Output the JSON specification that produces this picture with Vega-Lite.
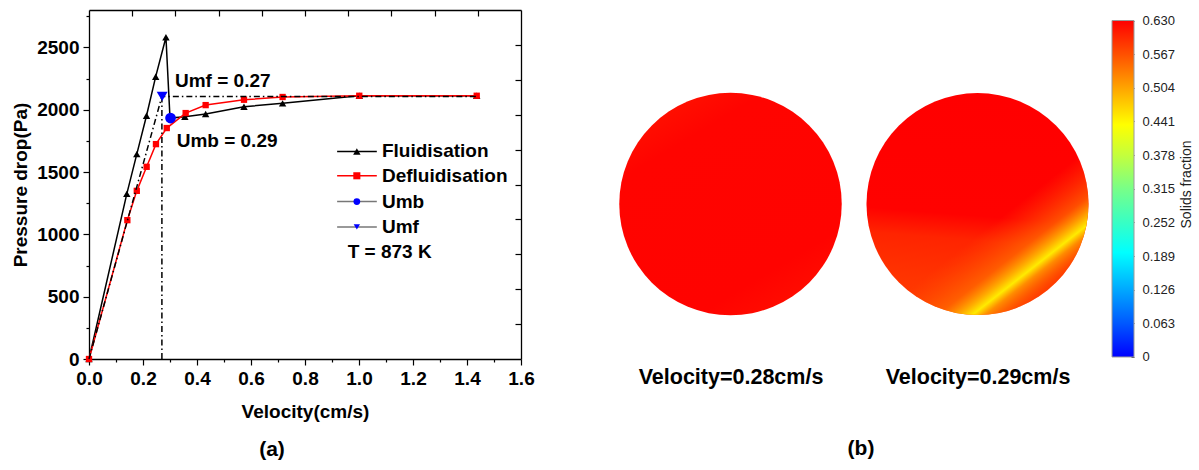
{
  "$schema": "https://vega.github.io/schema/vega-lite/v6.json",
  "padding": {"left": 11, "top": 9, "right": 0, "bottom": 0},
  "background": "white",
  "bounds": "flush",
  "spacing": 86,
  "config": {"view": {"stroke": null}, "font": "Liberation Sans"},
  "datasets": {
    "fluid": [
      {"v": 0, "p": 0}, {"v": 0.14, "p": 1325}, {"v": 0.177, "p": 1644}, {"v": 0.213, "p": 1952},
      {"v": 0.247, "p": 2265}, {"v": 0.285, "p": 2581}, {"v": 0.30, "p": 1933}, {"v": 0.355, "p": 1944},
      {"v": 0.432, "p": 1965}, {"v": 0.574, "p": 2024}, {"v": 0.717, "p": 2051}, {"v": 1.001, "p": 2112},
      {"v": 1.436, "p": 2112}
    ],
    "defluid": [
      {"v": 0, "p": 0}, {"v": 0.142, "p": 1114}, {"v": 0.177, "p": 1349}, {"v": 0.2135, "p": 1542},
      {"v": 0.248, "p": 1724}, {"v": 0.288, "p": 1853}, {"v": 0.358, "p": 1973}, {"v": 0.432, "p": 2037},
      {"v": 0.574, "p": 2080}, {"v": 0.717, "p": 2102}, {"v": 1.001, "p": 2112}, {"v": 1.436, "p": 2112}
    ],
    "dash": [
      {"seg": "a", "o": 1, "v": 0, "p": 0}, {"seg": "a", "o": 2, "v": 0.27, "p": 2107}, {"seg": "a", "o": 3, "v": 1.437, "p": 2107},
      {"seg": "b", "o": 1, "v": 0.27, "p": 0}, {"seg": "b", "o": 2, "v": 0.27, "p": 2107}
    ],
    "umf": [{"v": 0.271, "p": 2107}],
    "umb": [{"v": 0.302, "p": 1933}],
    "texts": [
      {"v": 0.3185, "p": 2227, "t": "Umf = 0.27"},
      {"v": 0.3247, "p": 1751, "t": "Umb = 0.29"},
      {"v": 1.085, "p": 1665, "t": "Fluidisation"},
      {"v": 1.085, "p": 1470, "t": "Defluidisation"},
      {"v": 1.085, "p": 1263, "t": "Umb"},
      {"v": 1.085, "p": 1060, "t": "Umf"},
      {"v": 0.958, "p": 862, "t": "T = 873 K"}
    ],
    "leg": [
      {"item": "Fluidisation", "v": 0.919, "v2": 1.066, "xm": 0.992, "p": 1665},
      {"item": "Defluidisation", "v": 0.919, "v2": 1.066, "xm": 0.992, "p": 1470},
      {"item": "Umb", "v": 0.919, "v2": 1.066, "xm": 0.992, "p": 1263},
      {"item": "Umf", "v": 0.919, "v2": 1.066, "xm": 0.992, "p": 1060}
    ],
    "circles": [
      {"label": "Velocity=0.28cm/s", "y": 0.444},
      {"label": "Velocity=0.29cm/s", "y": 0.444}
    ],
    "cbar": [{"lo": 0, "hi": 0.63}]
  },
  "hconcat": [
    {
      "width": 432,
      "height": 349,
      "title": {"text": "(a)", "orient": "bottom", "fontSize": 21, "fontWeight": "bold", "font": "Liberation Sans", "color": "#000000", "offset": 18, "anchor": "middle", "dx": -33},
      "encoding": {
        "x": {"field": "v", "type": "quantitative", "scale": {"domain": [0, 1.6], "nice": false, "zero": false}, "axis": null},
        "y": {"field": "p", "type": "quantitative", "scale": {"domain": [0, 2800], "nice": false, "zero": false}, "axis": null}
      },
      "layer": [
        {
          "data": {"name": "fluid"},
          "mark": {"type": "line", "color": "#000000", "strokeWidth": 1.5},
          "encoding": {
            "x": {"field": "v", "type": "quantitative", "scale": {"domain": [0, 1.6], "nice": false, "zero": false},
              "axis": {"orient": "bottom", "values": [0, 0.2, 0.4, 0.6, 0.8, 1.0, 1.2, 1.4, 1.6], "format": ".1f", "grid": false,
                "title": "Velocity(cm/s)", "titleFont": "Liberation Sans", "titleFontSize": 19, "titleFontWeight": "bold", "titleColor": "#000000", "titlePadding": 14,
                "labelFont": "Liberation Sans", "labelFontSize": 19, "labelFontWeight": "bold", "labelColor": "#000000", "labelPadding": 4,
                "labelFlush": false, "labelOverlap": false, "tickSize": 6, "tickColor": "#000000", "tickWidth": 1.2, "domainColor": "#000000", "domainWidth": 1.3}},
            "y": {"field": "p", "type": "quantitative", "scale": {"domain": [0, 2800], "nice": false, "zero": false},
              "axis": {"orient": "left", "values": [0, 500, 1000, 1500, 2000, 2500], "format": "d", "grid": false,
                "title": "Pressure drop(Pa)", "titleFont": "Liberation Sans", "titleFontSize": 19, "titleFontWeight": "bold", "titleColor": "#000000", "titlePadding": 6,
                "labelFont": "Liberation Sans", "labelFontSize": 19, "labelFontWeight": "bold", "labelColor": "#000000", "labelPadding": 4,
                "labelFlush": false, "labelOverlap": false, "tickSize": 6, "tickColor": "#000000", "tickWidth": 1.2, "domainColor": "#000000", "domainWidth": 1.3}}
          }
        },
        {
          "data": {"name": "fluid"},
          "mark": {"type": "point", "shape": "triangle-up", "filled": true, "size": 55, "color": "#000000", "opacity": 1}
        },
        {
          "data": {"name": "defluid"},
          "mark": {"type": "line", "color": "#ff0000", "strokeWidth": 1.5}
        },
        {
          "data": {"name": "defluid"},
          "mark": {"type": "point", "shape": "square", "filled": true, "size": 40, "color": "#ff0000", "opacity": 1}
        },
        {
          "data": {"name": "dash"},
          "mark": {"type": "line", "color": "#000000", "strokeWidth": 1.5, "strokeDash": [6, 3, 1.5, 3]},
          "encoding": {
            "x": {"field": "v", "type": "quantitative", "scale": {"domain": [0, 1.6], "nice": false, "zero": false},
              "axis": {"orient": "bottom", "values": [0.1, 0.3, 0.5, 0.7, 0.9, 1.1, 1.3, 1.5], "labels": false, "domain": false, "grid": false, "title": null, "tickSize": 3, "tickColor": "#000000", "tickWidth": 1.2}},
            "y": {"field": "p", "type": "quantitative", "scale": {"domain": [0, 2800], "nice": false, "zero": false},
              "axis": {"orient": "left", "values": [250, 750, 1250, 1750, 2250, 2750], "labels": false, "domain": false, "grid": false, "title": null, "tickSize": 3, "tickColor": "#000000", "tickWidth": 1.2}},
            "detail": {"field": "seg"},
            "order": {"field": "o"}
          }
        },
        {
          "data": {"name": "umf"},
          "mark": {"type": "point", "shape": "triangle-down", "filled": true, "size": 120, "color": "#0000ff", "opacity": 1},
          "encoding": {
            "x": {"field": "v", "type": "quantitative", "scale": {"domain": [0, 1.6], "nice": false, "zero": false},
              "axis": {"orient": "top", "values": [0.16, 0.32, 0.48, 0.64, 0.8, 0.96, 1.12, 1.28, 1.44], "labels": false, "grid": false, "title": null, "tickSize": -6, "tickColor": "#000000", "tickWidth": 1.2, "domainColor": "#000000", "domainWidth": 1.3}},
            "y": {"field": "p", "type": "quantitative", "scale": {"domain": [0, 2800], "nice": false, "zero": false},
              "axis": {"orient": "right", "values": [280, 560, 840, 1120, 1400, 1680, 1960, 2240, 2520], "labels": false, "grid": false, "title": null, "tickSize": -6, "tickColor": "#000000", "tickWidth": 1.2, "domainColor": "#000000", "domainWidth": 1.3}}
          }
        },
        {
          "data": {"name": "umb"},
          "mark": {"type": "point", "shape": "circle", "filled": true, "size": 115, "color": "#0000ff", "opacity": 1}
        },
        {
          "data": {"name": "leg"},
          "mark": {"type": "rule"},
          "encoding": {
            "x2": {"field": "v2"},
            "stroke": {"field": "item", "type": "nominal", "scale": {"domain": ["Fluidisation", "Defluidisation", "Umb", "Umf"], "range": ["#000000", "#ff0000", "#777777", "#777777"]}, "legend": null},
            "strokeWidth": {"field": "item", "type": "nominal", "scale": {"domain": ["Fluidisation", "Defluidisation", "Umb", "Umf"], "range": [1.5, 1.5, 0.8, 0.8]}, "legend": null}
          }
        },
        {
          "data": {"name": "leg"},
          "mark": {"type": "point", "filled": true, "opacity": 1},
          "encoding": {
            "x": {"field": "xm", "type": "quantitative", "scale": {"domain": [0, 1.6], "nice": false, "zero": false}, "axis": null},
            "shape": {"field": "item", "type": "nominal", "scale": {"domain": ["Fluidisation", "Defluidisation", "Umb", "Umf"], "range": ["triangle-up", "square", "circle", "triangle-down"]}, "legend": null},
            "fill": {"field": "item", "type": "nominal", "scale": {"domain": ["Fluidisation", "Defluidisation", "Umb", "Umf"], "range": ["#000000", "#ff0000", "#0000ff", "#0000ff"]}, "legend": null},
            "size": {"field": "item", "type": "nominal", "scale": {"domain": ["Fluidisation", "Defluidisation", "Umb", "Umf"], "range": [55, 40, 115, 120]}, "legend": null}
          }
        },
        {
          "data": {"name": "texts"},
          "mark": {"type": "text", "align": "left", "baseline": "middle", "font": "Liberation Sans", "fontSize": 19, "fontWeight": "bold", "color": "#000000"},
          "encoding": {"text": {"field": "t"}}
        }
      ],
      "resolve": {"axis": {"x": "independent", "y": "independent"}}
    },
    {
      "hconcat": [
        {
          "width": 494,
          "height": 349,
          "data": {"name": "circles"},
          "title": {"text": "(b)", "orient": "bottom", "fontSize": 21, "fontWeight": "bold", "font": "Liberation Sans", "color": "#000000", "offset": 50, "anchor": "middle", "dx": 7},
          "encoding": {
            "x": {"field": "label", "type": "nominal", "scale": {"type": "point", "padding": 0.5, "domain": ["Velocity=0.28cm/s", "Velocity=0.29cm/s"]},
              "axis": {"orient": "bottom", "domain": false, "ticks": false, "grid": false, "labelAngle": 0, "title": null, "labelLimit": 0,
                "labelFont": "Liberation Sans", "labelFontSize": 21.5, "labelFontWeight": "bold", "labelColor": "#000000", "labelPadding": 7}},
            "y": {"field": "y", "type": "quantitative", "scale": {"domain": [0, 1], "nice": false, "zero": false}, "axis": null}
          },
          "layer": [
            {
              "transform": [{"filter": {"field": "label", "equal": "Velocity=0.28cm/s"}}],
              "mark": {"type": "point", "shape": "circle", "filled": true, "opacity": 1, "size": 49500, "strokeWidth": 0,
                "fill": {"gradient": "linear", "x1": 0.2, "y1": 0, "x2": 0.8, "y2": 1,
                  "stops": [{"offset": 0, "color": "#ff1400"}, {"offset": 0.2, "color": "#ff0400"}, {"offset": 0.8, "color": "#ff0300"}, {"offset": 1, "color": "#ff1000"}]}}
            },
            {
              "transform": [{"filter": {"field": "label", "equal": "Velocity=0.29cm/s"}}],
              "mark": {"type": "point", "shape": "circle", "filled": true, "opacity": 1, "size": 49300, "strokeWidth": 0,
                "fill": {"gradient": "linear", "x1": 0.5, "y1": 0, "x2": 0.42, "y2": 1,
                  "stops": [
                    {"offset": 0, "color": "#ff0000"}, {"offset": 0.55, "color": "#ff0200"}, {"offset": 0.66, "color": "#ff2400"},
                    {"offset": 0.85, "color": "#ff3400"}, {"offset": 1, "color": "#ff3c00"}]}}
            },
            {
              "transform": [{"filter": {"field": "label", "equal": "Velocity=0.29cm/s"}}],
              "mark": {"type": "point", "shape": "circle", "filled": true, "opacity": 1, "size": 49300, "strokeWidth": 0,
                "fill": {"gradient": "linear", "x1": 0, "y1": 0, "x2": 0.865, "y2": 1.106,
                  "stops": [
                    {"offset": 0, "color": "rgba(255,60,0,0)"}, {"offset": 0.58, "color": "rgba(255,80,0,0)"},
                    {"offset": 0.7, "color": "rgba(255,110,0,0.7)"}, {"offset": 0.745, "color": "rgba(255,180,0,0.95)"},
                    {"offset": 0.77, "color": "rgba(255,235,0,1)"}, {"offset": 0.795, "color": "rgba(255,150,0,0.9)"},
                    {"offset": 0.85, "color": "rgba(255,80,0,0.4)"}, {"offset": 1, "color": "rgba(255,60,0,0.2)"}]}}
            }
          ]
        },
        {
          "width": 22,
          "height": 349,
          "data": {"name": "cbar"},
          "mark": {"type": "rect", "stroke": "#9a9a9a", "strokeWidth": 1,
            "fill": {"gradient": "linear", "x1": 0, "y1": 1, "x2": 0, "y2": 0,
              "stops": [
                {"offset": 0, "color": "#0000ff"}, {"offset": 0.1, "color": "#0058ff"}, {"offset": 0.2, "color": "#00a8ff"},
                {"offset": 0.31, "color": "#00ffff"}, {"offset": 0.4, "color": "#38ffc4"}, {"offset": 0.5, "color": "#78ff88"},
                {"offset": 0.6, "color": "#c4ff3c"}, {"offset": 0.69, "color": "#ffff00"}, {"offset": 0.8, "color": "#ffa400"},
                {"offset": 0.9, "color": "#ff5000"}, {"offset": 1, "color": "#ff0000"}]}},
          "encoding": {
            "y": {"field": "lo", "type": "quantitative", "scale": {"domain": [-0.00375, 0.6497], "nice": false, "zero": false},
              "axis": {"orient": "right", "values": [0, 0.063, 0.126, 0.189, 0.252, 0.315, 0.378, 0.441, 0.504, 0.567, 0.63],
                "labelExpr": "datum.value == 0 ? '0' : format(datum.value, '.3f')", "domain": false, "grid": false,
                "tickSize": -3, "tickColor": "#444444", "tickWidth": 1, "labelPadding": 11, "labelFont": "Liberation Sans", "labelFontSize": 13, "labelColor": "#222222",
                "labelFlush": false, "labelOverlap": false,
                "title": "Solids fraction", "titleFont": "Liberation Sans", "titleFontSize": 14, "titleFontWeight": "normal", "titleColor": "#222222",
                "titleAngle": 270, "titleBaseline": "middle", "titleAlign": "center", "titleX": 52, "titleY": 174}},
            "y2": {"field": "hi"}
          }
        }
      ],
      "spacing": 11,
      "bounds": "flush"
    }
  ]
}
